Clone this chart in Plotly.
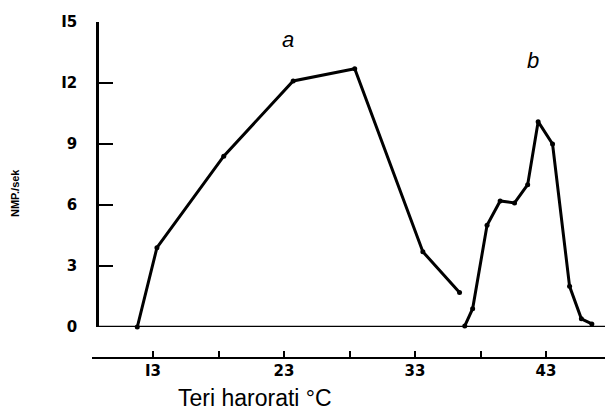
import plotly.graph_objects as go

# Curve a
a_x = [11.8, 13.3, 18.4, 23.7, 28.4, 33.6, 36.4]
a_y = [0.0, 3.9, 8.4, 12.1, 12.7, 3.7, 1.7]
# Curve b
b_x = [36.8, 37.4, 38.5, 39.5, 40.6, 41.6, 42.4, 43.5, 44.8, 45.7, 46.5]
b_y = [0.05, 0.9, 5.0, 6.2, 6.1, 7.0, 10.1, 9.0, 2.0, 0.4, 0.15]

y_ticks = [0, 3, 6, 9, 12, 15]
y_ticktext = ["0", "3", "6", "9", "I2", "I5"]
x_ticks = [13, 18, 23, 28, 33, 38, 43, 48]
x_ticktext = ["I3", "", "23", "", "33", "", "43", ""]

OFF = 8  # page body margin
W, H = 613 - OFF, 410 - OFF
L = 92 - OFF
T = 22 - OFF
B = H - (358 - OFF)
XR = [13 + (92 - 153) / 13.1, 13 + (613 - 153) / 13.1]
yaxis_pos = (97 - 92) / (613 - 92)

fig = go.Figure()
for xs, ys in [(a_x, a_y), (b_x, b_y)]:
    fig.add_trace(go.Scatter(
        x=xs, y=ys, mode="lines+markers",
        line=dict(color="black", width=3),
        marker=dict(color="black", size=5),
        cliponaxis=False, showlegend=False, xaxis="x", yaxis="y"))

# dummy trace for lower axis
fig.add_trace(go.Scatter(x=[XR[0]], y=[0], mode="markers", marker=dict(opacity=0),
                         xaxis="x2", yaxis="y", showlegend=False, hoverinfo="skip"))

tickf = dict(family="DejaVu Sans", size=15, color="black", weight="bold")
fig.update_layout(
    width=W, height=H,
    margin=dict(l=L, r=0, t=T, b=B, autoexpand=False),
    plot_bgcolor="white", paper_bgcolor="white",
    xaxis=dict(range=XR, domain=[0, 1], showline=False, showgrid=False, automargin=False,
               zeroline=False, showticklabels=False, ticks=""),
    xaxis2=dict(range=XR, overlaying="x", anchor="free", position=0, automargin=False,
                showline=True, linecolor="black", linewidth=2.2,
                tickvals=x_ticks, ticktext=x_ticktext, ticks="inside",
                ticklen=6, tickwidth=2, tickcolor="black", showgrid=False,
                zeroline=False, ticklabelstandoff=-1, tickfont=tickf),
    yaxis=dict(range=[0, 15], domain=[(358 - 327) / 336, 1], anchor="free", automargin=False,
               position=yaxis_pos, showline=True, linecolor="black", linewidth=2.6,
               tickvals=y_ticks, ticktext=y_ticktext, ticks="inside", ticklen=14,
               tickwidth=2, tickcolor="black", showgrid=False, zeroline=False,
               ticklabelstandoff=16, tickfont=tickf),
    shapes=[dict(type="line", xref="paper", yref="y", x0=yaxis_pos, x1=1, y0=0, y1=0,
                 line=dict(color="black", width=2.4))],
    annotations=[
        dict(text="a", x=13 + (288 - 153) / 13.1, y=(327 - 40) / 20.3, xref="x", yref="y",
             showarrow=False, font=dict(family="Liberation Sans", size=22, color="black", style="italic")),
        dict(text="b", x=13 + (533 - 153) / 13.1, y=(327 - 61) / 20.3, xref="x", yref="y",
             showarrow=False, font=dict(family="Liberation Sans", size=22, color="black", style="italic")),
        dict(text="NMP./sek", x=15, y=193, xref="paper", yref="paper", showarrow=False,
             xanchor="center", yanchor="middle",
             textangle=-90, font=dict(family="Liberation Sans", size=11, color="black", weight="bold")),
        dict(text="Teri harorati °C", x=255, y=398, xref="paper", yref="paper",
             xanchor="center", yanchor="middle",
             showarrow=False, font=dict(family="Liberation Sans", size=23, color="black")),
    ],
)
# convert reference-pixel annotation positions to paper coords
pw, ph = W - L, H - T - B
for ann in fig.layout.annotations:
    if ann.xref == "paper":
        px, py = ann.x - OFF, ann.y - OFF
        ann.x = (px - L) / pw
        ann.y = (H - B - py) / ph

fig.write_html("out.html")
